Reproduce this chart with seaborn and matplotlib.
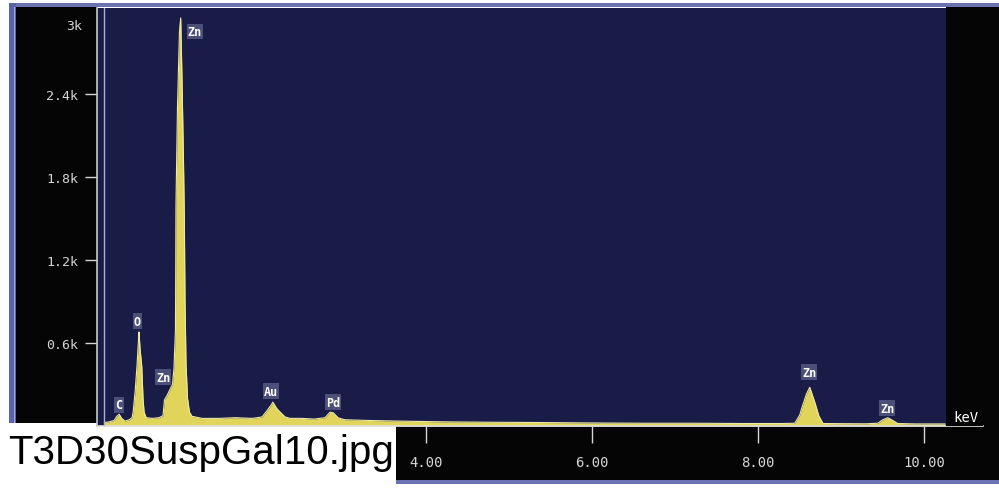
import matplotlib
matplotlib.use("Agg")
import matplotlib.pyplot as plt
from matplotlib.patches import Rectangle
import seaborn as sns

# EDS spectrum: energy (keV) vs counts
energy_keV = [
    0.12, 0.18, 0.24, 0.27, 0.30, 0.33, 0.37, 0.42, 0.455,
    0.468, 0.492, 0.516, 0.532, 0.539, 0.551, 0.572, 0.587, 0.600, 0.625,
    0.70, 0.78, 0.828, 0.846, 0.876, 0.912, 0.942, 0.960, 0.978, 0.984,
    1.002, 1.026, 1.041, 1.057, 1.075, 1.085, 1.093, 1.105, 1.123, 1.147,
    1.177, 1.30, 1.50, 1.70, 1.90, 2.02, 2.08, 2.14, 2.15, 2.20,
    2.24, 2.30, 2.36, 2.50, 2.65, 2.78, 2.84, 2.88, 2.94, 3.02,
    3.30, 3.70, 4.20, 4.80, 5.40, 6.00, 6.60, 7.20, 7.80, 8.30,
    8.44, 8.50, 8.52, 8.58, 8.62, 8.68, 8.73, 8.78, 9.00, 9.30, 9.44,
    9.50, 9.56, 9.62, 9.68, 9.90, 10.25,
]
counts = [
    25, 30, 40, 70, 85, 55, 35, 45, 60,
    100, 250, 450, 620, 680, 560, 430, 200, 100, 60,
    55, 60, 75, 190, 220, 265, 300, 420, 700, 1600,
    2300, 2850, 2950, 2500, 1900, 1500, 900, 450, 200, 100,
    70, 55, 55, 60, 55, 65, 110, 160, 173, 125,
    100, 65, 55, 55, 50, 60, 100, 95, 58, 45,
    40, 35, 30, 27, 25, 22, 20, 20, 18, 18,
    20, 80, 123, 231, 280, 173, 72, 18, 17, 16, 20,
    45, 60, 40, 18, 15, 15,
]

# Peak identification labels and their anchor points (keV, counts)
peak_names = ["C", "O", "Zn", "Zn", "Au", "Pd", "Zn", "Zn"]
peak_label_keV = [0.298, 0.519, 0.828, 1.213, 2.129, 2.876, 8.611, 9.551]
peak_label_counts = [152, 759, 354, 2850, 253, 173, 390, 130]

# Axis ticks
y_ticks = [600, 1200, 1800, 2400]
y_tick_labels = ["0.6k", "1.2k", "1.8k", "2.4k"]
y_top_label = "3k"
x_ticks = [4, 6, 8, 10]
x_tick_labels = ["4.00", "6.00", "8.00", "10.00"]
x_unit = "keV"
file_caption = "T3D30SuspGal10.jpg"

sns.set_style("dark")
plt.rcParams["font.family"] = ["DejaVu Sans Mono", "DejaVu Sans"]

W, H = 999, 489
fig = plt.figure(figsize=(W / 100, H / 100), dpi=100, facecolor="white")


def px_rect(x0, y0, x1, y1, color, z=-1):
    """Rectangle given in pixel coordinates measured from the top-left."""
    fig.patches.append(Rectangle((x0 / W, 1 - y1 / H), (x1 - x0) / W, (y1 - y0) / H,
                                 transform=fig.transFigure, facecolor=color,
                                 edgecolor="none", zorder=z))


navy = "#1a1c48"
black = "#050505"
frame_blue = "#6a72b2"
light = "#d6d6d6"

# window frame and side panels
px_rect(9, 4, W, 8, frame_blue)
px_rect(9, 4, 16, 424, "#5a64a8")
px_rect(14, 8, 15, 424, "#a2a8dc")
px_rect(16, 8, 97, 424, black)
px_rect(946, 8, W, 427, black)
px_rect(396, 427, W, 481, black)
px_rect(396, 481, W, 485, frame_blue)

ax_left, ax_right, ax_top, ax_bottom = 97, 983, 9, 427
ax = fig.add_axes([ax_left / W, 1 - ax_bottom / H,
                   (ax_right - ax_left) / W, (ax_bottom - ax_top) / H])
ax.set_facecolor(navy)

kev_per_px = 1 / 83.0
kev0_px = 94.3
ax.set_xlim((ax_left - kev0_px) * kev_per_px, (ax_right - kev0_px) * kev_per_px)
ax.set_ylim(0, (ax_bottom - ax_top) * 600 / 83.0)

# spectrum
ax.fill_between(energy_keV, counts, 0, color="#e0d45a", linewidth=0, zorder=2)
sns.lineplot(x=energy_keV, y=counts, ax=ax, color="#eee9a4", linewidth=0.8, zorder=3)

# right-hand black panel inside the axes, and the inner vertical rule
ax.axvspan((946 - kev0_px) * kev_per_px, (ax_right - kev0_px) * kev_per_px,
           color=black, zorder=4, linewidth=0)
ax.axvline((104 - kev0_px) * kev_per_px, color="#aab0d4", linewidth=1, zorder=5)

for name, k, c in zip(peak_names, peak_label_keV, peak_label_counts):
    ax.text(k, c, name, ha="center", va="center", fontsize=8.5, weight="bold",
            color="white", family="DejaVu Sans Mono", zorder=6,
            bbox=dict(boxstyle="square,pad=0.1", fc="#4c5078", ec="none"))

# axes styling
for s in ["top", "right"]:
    ax.spines[s].set_visible(False)
ax.spines["left"].set_color("#c8c8d2")
ax.spines["left"].set_linewidth(1.2)
ax.spines["bottom"].set_color("#e0e0e0")
ax.spines["bottom"].set_linewidth(1.2)
ax.spines["left"].set_zorder(5)

ax.set_yticks(y_ticks)
ax.set_yticklabels(y_tick_labels)
ax.set_xticks(x_ticks)
ax.set_xticklabels(x_tick_labels)
ax.tick_params(axis="y", direction="out", length=8.6, width=1, color=light,
               labelcolor=light, labelsize=9.5, pad=5, left=True)
ax.tick_params(axis="x", direction="out", length=12, width=1, color=light,
               labelcolor=light, labelsize=10, pad=9, bottom=True)
ax.grid(False)
ax.set_xlabel("")
ax.set_ylabel("")

ax.annotate(y_top_label, xy=(0, 1), xycoords="axes fraction",
            xytext=(-15, -18), textcoords="offset pixels",
            ha="right", va="center", color=light, fontsize=9.5,
            family="DejaVu Sans Mono")
ax.annotate(x_unit, xy=(1, 0), xycoords="axes fraction",
            xytext=(-17, 9), textcoords="offset pixels",
            ha="center", va="center", color="white", fontsize=10,
            family="DejaVu Sans Mono", zorder=7)

fig.text(8 / W, 1 - 464 / H, file_caption, ha="left", va="baseline",
         fontsize=29, color="black", family=["Liberation Sans", "DejaVu Sans"])

fig.savefig("out.png", dpi=100, facecolor=fig.get_facecolor())
